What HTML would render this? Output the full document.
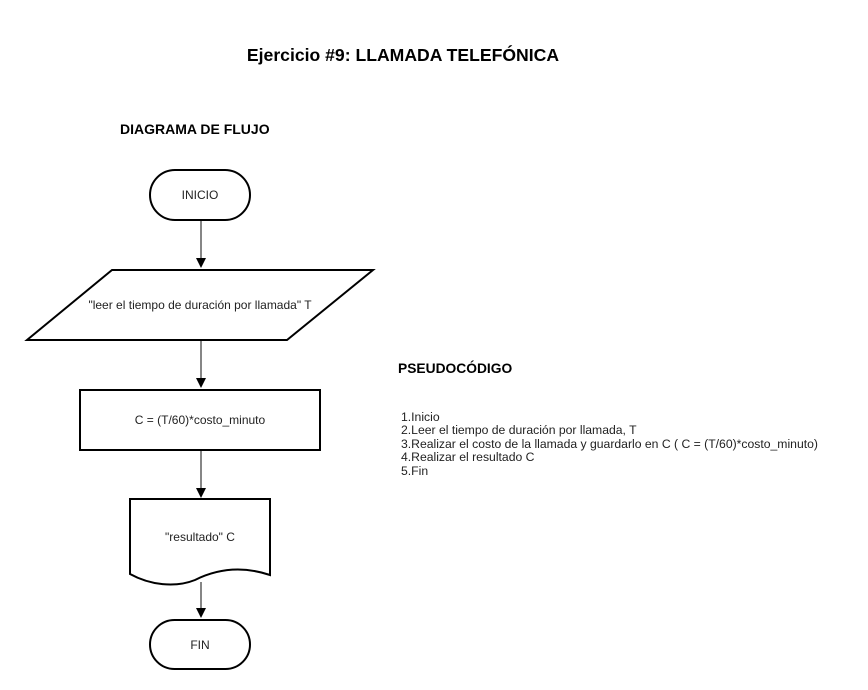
<!DOCTYPE html>
<html><head><meta charset="utf-8"><style>
body{margin:0;background:#fff;}
svg{display:block;font-family:"Liberation Sans",Arial,sans-serif;}
</style></head><body>
<svg width="868" height="690" viewBox="0 0 868 690" xmlns="http://www.w3.org/2000/svg">
<text x="403" y="61" text-anchor="middle" font-size="17.6" font-weight="bold">Ejercicio #9: LLAMADA TELEFÓNICA</text>
<text x="120" y="134" font-size="14" font-weight="bold">DIAGRAMA DE FLUJO</text>
<text x="398" y="373" font-size="13.8" font-weight="bold">PSEUDOCÓDIGO</text>
<g font-size="12.2" fill="#222">
<text x="401" y="421">1.Inicio</text>
<text x="401" y="434">2.Leer el tiempo de duración por llamada, T</text>
<text x="401" y="448">3.Realizar el costo de la llamada y guardarlo en C ( C = (T/60)*costo_minuto)</text>
<text x="401" y="461">4.Realizar el resultado C</text>
<text x="401" y="475">5.Fin</text>
</g>
<g fill="none" stroke="#000" stroke-width="2">
<rect x="150" y="170" width="100" height="50" rx="25"/>
<path d="M112,270 L373,270 L287,340 L27,340 Z"/>
<rect x="80" y="390" width="240" height="60"/>
<path d="M130,499 L270,499 L270,575 C240,565 215,570 195,580 C175,588 150,585 130,574 Z"/>
<rect x="150" y="620" width="100" height="49" rx="24.5"/>
</g>
<g stroke="#444" stroke-width="1.3">
<line x1="201" y1="221" x2="201" y2="260"/>
<line x1="201" y1="341" x2="201" y2="380"/>
<line x1="201" y1="451" x2="201" y2="490"/>
<line x1="201" y1="582" x2="201" y2="610"/>
</g>
<g fill="#000">
<path d="M196,258 L206,258 L201,268 Z"/>
<path d="M196,378 L206,378 L201,388 Z"/>
<path d="M196,488 L206,488 L201,498 Z"/>
<path d="M196,608 L206,608 L201,618 Z"/>
</g>
<g font-size="12" text-anchor="middle" fill="#222">
<text x="200" y="199">INICIO</text>
<text x="200" y="309">"leer el tiempo de duración por llamada" T</text>
<text x="200" y="424">C = (T/60)*costo_minuto</text>
<text x="200" y="541">"resultado" C</text>
<text x="200" y="649">FIN</text>
</g>
</svg>
</body></html>
